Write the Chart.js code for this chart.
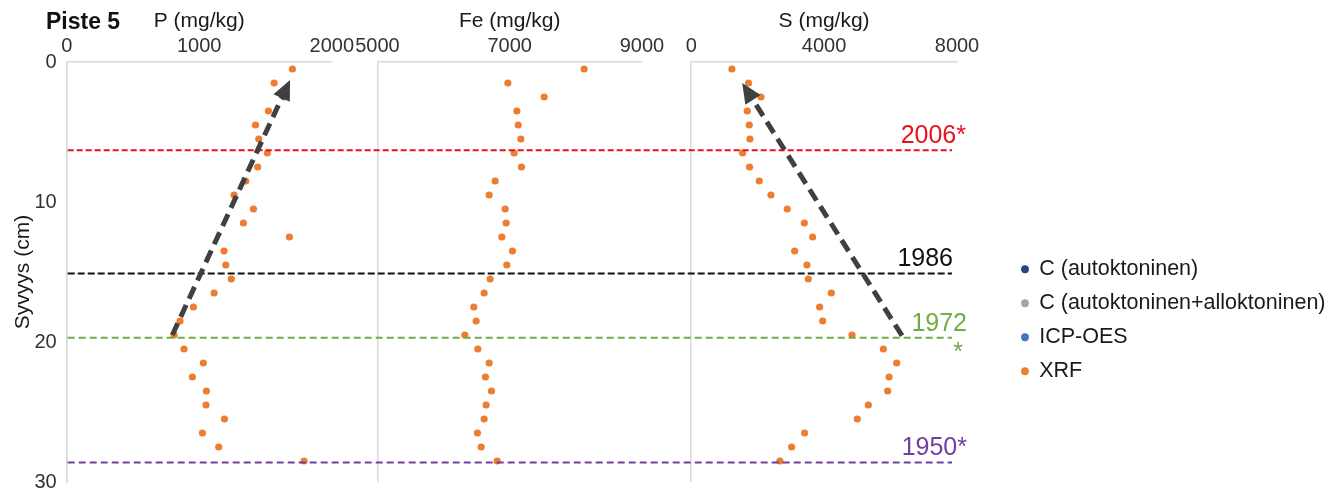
<!DOCTYPE html>
<html>
<head>
<meta charset="utf-8">
<script src="https://cdn.jsdelivr.net/npm/chart.js@4/dist/chart.umd.min.js"></script>
<style>
  html, body { margin: 0; padding: 0; background: #ffffff; }
  #wrap { width: 1327px; height: 492px; position: relative; }
</style>
</head>
<body>
<div id="wrap"><canvas id="c" width="1327" height="492"></canvas></div>
<script>
// ---------------- data ----------------
const depths   = [0.5, 1.5, 2.5, 3.5, 4.5, 5.5, 6.5, 7.5, 8.5, 9.5, 10.5, 11.5, 12.5, 13.5, 14.5,
                  15.5, 16.5, 17.5, 18.5, 19.5, 20.5, 21.5, 22.5, 23.5, 24.5, 25.5, 26.5, 27.5, 28.5];
const pValues  = [1703, 1565, 1640, 1522, 1424, 1449, 1514, 1441, 1351, 1263, 1409, 1333, 1680, 1187, 1200,
                  1242, 1112, 956, 855, 810, 885, 1031, 948, 1054, 1051, 1190, 1024, 1147, 1791];
const feValues = [8127, 6973, 7522, 7109, 7129, 7169, 7068, 7179, 6781, 6690, 6932, 6947, 6882, 7042, 6957,
                  6705, 6614, 6458, 6493, 6322, 6519, 6690, 6634, 6725, 6644, 6614, 6513, 6569, 6811];
const sValues  = [1225, 1726, 2099, 1687, 1747, 1767, 1546, 1757, 2048, 2400, 2892, 3404, 3655, 3113, 3484,
                  3524, 4217, 3865, 3956, 4840, 5783, 6184, 5955, 5913, 5331, 5000, 3413, 3022, 2671];

const pTicks  = [0, 1000, 2000];
const feTicks = [5000, 7000, 9000];
const sTicks  = [0, 4000, 8000];
const yTicks  = [0, 10, 20, 30];

const legendLabels = ['C (autoktoninen)', 'C (autoktoninen+alloktoninen)', 'ICP-OES', 'XRF'];

const yearDepths = [6.3, 15.1, 19.7, 28.6];
const yearLabels = ['2006*', '1986', '1972', '1950*'];

// trend arrows (tail -> tip) in data units
const arrowP = [{x: 797, y: 19.5}, {x: 1666, y: 1.67}];
const arrowS = [{x: 6346, y: 19.55}, {x: 1633, y: 1.86}];

// ---------------- styles ----------------
const FONT = "'Liberation Sans', Arial, sans-serif";
Chart.defaults.font.family = FONT;
Chart.defaults.color = '#333333';

const COL = { navy: '#264478', grey: '#a5a5a5', blue: '#4472c4', orange: '#ed7d31', arrow: '#404040', axis: '#d9d9d9' };
const yearColors = ['#e5131d', '#111111', '#70ad47', '#7040a0'];
const yearDash   = [[6, 3], [7, 3], [7, 4], [7, 4]];
const yearLabelDx = [9, -4, 10, 10];

const toPts = (vals) => depths.map((d, i) => ({x: vals[i], y: d}));

function xAxis(min, max, ticks, title, weight) {
  return {
    type: 'linear', position: 'top', stack: 'panels', stackWeight: weight,
    min: min, max: max,
    afterBuildTicks: (s) => { s.ticks = ticks.map(v => ({value: v})); },
    afterFit: (s) => { s.height = 62; },
    title: { display: true, text: title, color: '#1a1a1a', font: {size: 21}, padding: {top: 9, bottom: 0} },
    ticks: { font: {size: 20}, color: '#333333', padding: 4, autoSkip: false, maxRotation: 0,
             callback: (v) => String(v) },
    grid: { drawTicks: false, lineWidth: 1.5,
            color: (c) => c.index === 0 ? COL.axis : 'rgba(0,0,0,0)' },
    border: { display: true, color: COL.axis, width: 1.5 }
  };
}
function gapAxis(weight) {
  return {
    type: 'linear', position: 'top', stack: 'panels', stackWeight: weight, min: 0, max: 1,
    afterFit: (s) => { s.height = 62; },
    ticks: { display: false }, grid: { display: false }, border: { display: false }
  };
}

const pointDs = (label, data, xId, color) => ({
  label: label, data: data, xAxisID: xId, yAxisID: 'y', order: 1,
  backgroundColor: color, borderColor: color, pointRadius: 3.6, pointBorderWidth: 0, pointHoverRadius: 3.6,
  showLine: false
});
const arrowDs = (data, xId) => ({
  label: 'arrow', isArrow: true, data: data, xAxisID: xId, yAxisID: 'y', order: 0,
  showLine: true, borderColor: COL.arrow, backgroundColor: COL.arrow, borderWidth: 5,
  borderDash: [13, 7], borderCapStyle: 'butt', pointRadius: 0, pointHoverRadius: 0, tension: 0
});

const overlay = {
  id: 'overlay',
  beforeDatasetsDraw(chart) { chart.$yearDrawn = false; },
  beforeDatasetDraw(chart, args) {
    const ds = chart.data.datasets[args.index];
    if (!ds.isArrow || chart.$yearDrawn) return;
    chart.$yearDrawn = true;
    const ctx = chart.ctx, a = chart.chartArea, y = chart.scales.y;
    ctx.save();
    yearDepths.forEach((d, i) => {
      const py = y.getPixelForValue(d);
      ctx.strokeStyle = yearColors[i];
      ctx.lineWidth = 2;
      ctx.setLineDash(yearDash[i]);
      ctx.beginPath();
      ctx.moveTo(a.left + 1, py);
      ctx.lineTo(a.right - 5, py);
      ctx.stroke();
    });
    ctx.setLineDash([]);
    ctx.font = '25px ' + FONT;
    ctx.textAlign = 'right';
    ctx.textBaseline = 'alphabetic';
    yearDepths.forEach((d, i) => {
      const py = y.getPixelForValue(d);
      ctx.fillStyle = yearColors[i];
      ctx.fillText(yearLabels[i], a.right + yearLabelDx[i], py - 7);
    });
    // green asterisk under 1972
    ctx.fillStyle = yearColors[2];
    ctx.fillText('*', a.right + 6, y.getPixelForValue(yearDepths[2]) + 22);
    ctx.restore();
  },
  afterDatasetDraw(chart, args) {
    const ds = chart.data.datasets[args.index];
    if (!ds.isArrow) return;
    const pts = args.meta.data;
    if (pts.length < 2) return;
    const p0 = pts[0], p1 = pts[pts.length - 1];
    const ang = Math.atan2(p1.y - p0.y, p1.x - p0.x);
    const ux = Math.cos(ang), uy = Math.sin(ang);
    const tipX = p1.x + 6 * ux, tipY = p1.y + 6 * uy;
    const len = 20, hw = 9;
    const bx = tipX - len * ux, by = tipY - len * uy;
    const ctx = chart.ctx;
    ctx.save();
    ctx.fillStyle = COL.arrow;
    ctx.beginPath();
    ctx.moveTo(tipX, tipY);
    ctx.lineTo(bx - hw * uy, by + hw * ux);
    ctx.lineTo(bx + hw * uy, by - hw * ux);
    ctx.closePath();
    ctx.fill();
    ctx.restore();
  },
  afterDraw(chart) {
    const ctx = chart.ctx;
    ctx.save();
    ctx.font = 'bold 23px ' + FONT;
    ctx.fillStyle = '#111111';
    ctx.textAlign = 'left';
    ctx.textBaseline = 'alphabetic';
    ctx.fillText('Piste 5', 46, 29);
    ctx.restore();
  }
};

new Chart(document.getElementById('c'), {
  type: 'scatter',
  data: {
    datasets: [
      pointDs(legendLabels[0], [], 'xP', COL.navy),
      pointDs(legendLabels[1], [], 'xP', COL.grey),
      pointDs(legendLabels[2], [], 'xP', COL.blue),
      pointDs(legendLabels[3], toPts(pValues), 'xP', COL.orange),
      pointDs(legendLabels[3], toPts(feValues), 'xFe', COL.orange),
      pointDs(legendLabels[3], toPts(sValues), 'xS', COL.orange),
      arrowDs(arrowP, 'xP'),
      arrowDs(arrowS, 'xS')
    ]
  },
  options: {
    responsive: false,
    animation: false,
    devicePixelRatio: 1,
    layout: { padding: 0 },
    scales: {
      // top boxes are laid out in reverse order, so list right-most panel first
      xS:  xAxis(0, 8000, sTicks, 'S (mg/kg)', 265.7),
      xG2: gapAxis(49.3),
      xFe: xAxis(5000, 9000, feTicks, 'Fe (mg/kg)', 264.4),
      xG1: gapAxis(45.6),
      xP:  xAxis(0, 2000, pTicks, 'P (mg/kg)', 265),
      y: {
        type: 'linear', position: 'left', reverse: true, min: 0, max: 30,
        afterBuildTicks: (s) => { s.ticks = yTicks.map(v => ({value: v})); },
        afterFit: (s) => { s.width = 66.7; },
        title: { display: true, text: 'Syvyys (cm)', color: '#1a1a1a', font: {size: 21}, padding: {top: 11, bottom: 0} },
        ticks: { font: {size: 20, lineHeight: 1}, color: '#333333', padding: 0 },
        grid: { display: false, drawTicks: true, tickLength: 10 },
        border: { display: true, color: COL.axis, width: 1.5 }
      },
      yR: {
        type: 'linear', position: 'right', min: 0, max: 1,
        afterFit: (s) => { s.width = 52; },
        ticks: { display: false }, grid: { display: false }, border: { display: false }
      }
    },
    plugins: {
      tooltip: { enabled: false },
      legend: {
        position: 'right', align: 'start', maxWidth: 318,
        title: { display: true, text: ' ', font: {size: 10, lineHeight: 1.2}, padding: {top: 234, bottom: 0} },
        labels: {
          usePointStyle: true, pointStyle: 'circle', boxWidth: 7, boxHeight: 5.5, padding: 12.5,
          font: {size: 21.5}, color: '#1a1a1a',
          filter: (item, data) => {
            const ds = data.datasets[item.datasetIndex];
            if (ds.isArrow) return false;
            return data.datasets.findIndex(d => d.label === ds.label) === item.datasetIndex;
          }
        }
      }
    }
  },
  plugins: [overlay]
});
</script>
</body>
</html>
